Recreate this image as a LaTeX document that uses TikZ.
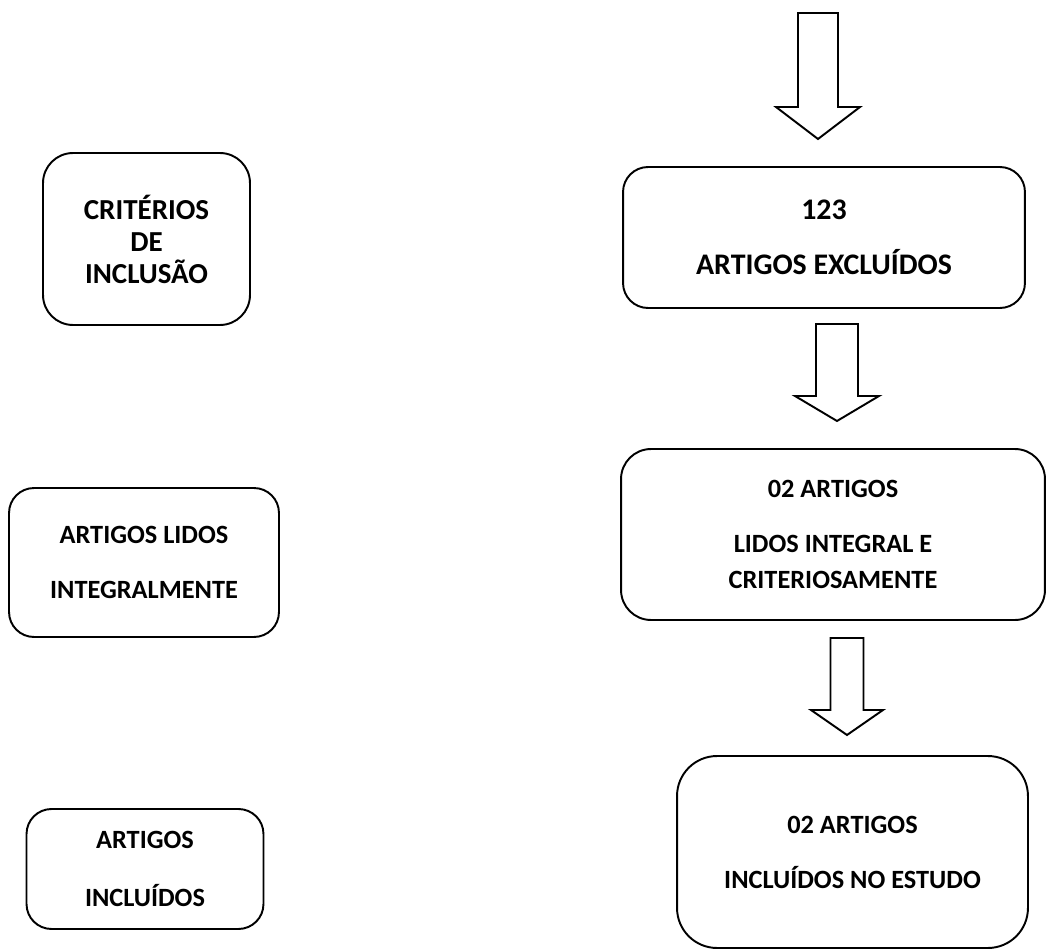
\documentclass[tikz,border=0pt]{standalone}
\usepackage{fontspec}
\setmainfont{Carlito}
\usetikzlibrary{calc}
\tikzset{
  sbox/.style  = {rectangle, draw, rounded corners=0.5cm, align=center,
                  line width=1.1pt, inner sep=0pt,
                  font=\fontsize{15}{18.5}\selectfont\bfseries},
  bigbox/.style = {sbox, font=\fontsize{17}{20}\selectfont\bfseries},
  fat/.style n args = {3}{line width=1.1pt, line join=miter, to path={
      let \p1=(\tikztostart), \p2=(\tikztotarget) in
      (\x1-#1,\y1) -- (\x1+#1,\y1) -- (\x1+#1,\y2+#3) -- (\x1+#2,\y2+#3)
      -- (\x1,\y2) -- (\x1-#2,\y2+#3) -- (\x1-#1,\y2+#3) -- cycle}},
}

\begin{document}
\begin{tikzpicture}[x=0.02cm, y=-0.02cm]
  \useasboundingbox (0,0) rectangle (1046,950);

  % left column
  \node[sbox, rounded corners=0.6cm, minimum width=4.14cm, minimum height=3.44cm,
        font=\fontsize{16.5}{18.2}\selectfont\bfseries]
    (crit) at (146.5,239) {CRITÉRIOS\\DE\\INCLUSÃO};
  \node[sbox, minimum width=5.40cm, minimum height=2.98cm]
    (lid) at (144,562.5) {ARTIGOS LIDOS\\[12.8pt]INTEGRALMENTE};
  \node[sbox, minimum width=4.74cm, minimum height=2.40cm]
    (inc) at (145,869) {ARTIGOS\\[14pt]INCLUÍDOS};

  % right column
  \node[bigbox, minimum width=8.04cm, minimum height=2.82cm]
    (excl) at (824,237.5) {123\\[11pt]ARTIGOS EXCLUÍDOS};
  \node[sbox, rounded corners=0.6cm, minimum width=8.48cm, minimum height=3.42cm]
    (lidos) at (833,534.5)
    {02 ARTIGOS\\[12.8pt]LIDOS INTEGRAL E\\[2.5pt]CRITERIOSAMENTE};
  \node[sbox, rounded corners=0.8cm, minimum width=7.02cm, minimum height=3.84cm]
    (estudo) at (852.5,852) {02 ARTIGOS\\[12.8pt]INCLUÍDOS NO ESTUDO};

  % block arrows
  \coordinate (a1s) at (818,13);  \coordinate (a1e) at (818,139);
  \coordinate (a2s) at (837,324); \coordinate (a2e) at (837,421);
  \coordinate (a3s) at (847,638); \coordinate (a3e) at (847,735);
  \draw[fat={0.4cm}{0.84cm}{0.64cm}] (a1s) to (a1e);
  \draw[fat={0.42cm}{0.84cm}{0.5cm}] (a2s) to (a2e);
  \draw[fat={0.33cm}{0.72cm}{0.5cm}] (a3s) to (a3e);
\end{tikzpicture}
\end{document}
